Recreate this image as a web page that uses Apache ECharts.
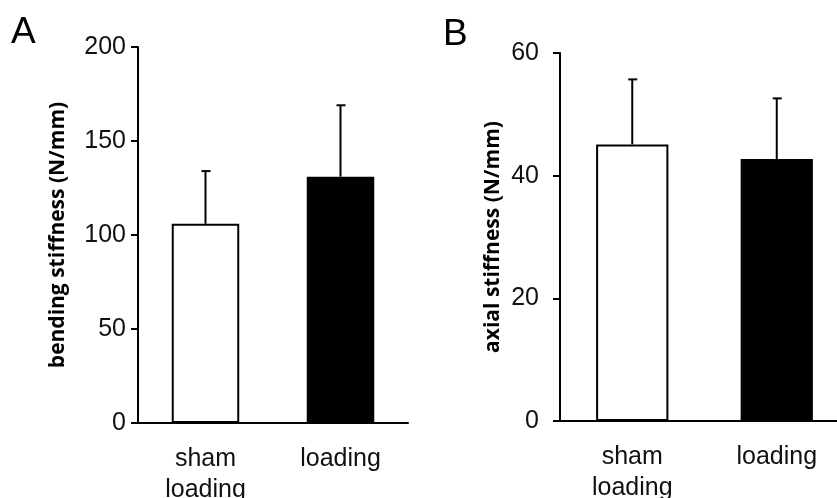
<!DOCTYPE html>
<html>
<head>
<meta charset="utf-8">
<script src="https://cdn.jsdelivr.net/npm/echarts@6/dist/echarts.min.js"></script>
<style>
  html, body { margin: 0; padding: 0; background: #fff; }
  #main { width: 837px; height: 498px; }
</style>
</head>
<body>
<div id="main"></div>
<script>
var categories = ['sham\nloading', 'loading'];
// panel A: bending stiffness (N/mm)
var bendingMean = [106, 131];
var bendingSD = [28, 38];
var bendingTicks = [0, 200, 50];   // min, max, interval
// panel B: axial stiffness (N/mm)
var axialMean = [45.1, 42.7];
var axialSD = [10.6, 9.9];
var axialTicks = [0, 60, 20];
var barColors = ['#ffffff', '#000000'];

var chart = echarts.init(document.getElementById('main'));

function barData(vals) {
    return vals.map(function (v, i) {
        return { value: v, itemStyle: { color: barColors[i] } };
    });
}

function errData(mean, sd) {
    return mean.map(function (m, i) { return [i, m, m + sd[i]]; });
}

// error bar: vertical line from mean up to mean+sd, small cap on top
function renderErr(params, api) {
    var lo = api.coord([api.value(0), api.value(1)]);
    var hi = api.coord([api.value(0), api.value(2)]);
    var st = { stroke: '#000', lineWidth: 2 };
    return {
        type: 'group',
        children: [
            { type: 'line', shape: { x1: lo[0], y1: lo[1], x2: hi[0], y2: hi[1] }, style: st },
            { type: 'line', shape: { x1: hi[0] - 4, y1: hi[1], x2: hi[0] + 5, y2: hi[1] }, style: st }
        ]
    };
}

var axisLine = { show: true, lineStyle: { color: '#000', width: 2 } };
var tickFont = { color: '#111', fontSize: 25, fontFamily: 'Liberation Sans, Arial, sans-serif' };

function yAxisOf(idx, t, name, gap, margin) {
    return {
        gridIndex: idx,
        type: 'value',
        min: t[0], max: t[1], interval: t[2],
        name: name,
        nameLocation: 'middle',
        nameGap: gap,
        nameRotate: 90,
        nameTextStyle: { color: '#000', fontSize: 21, fontWeight: 'bold', fontFamily: 'Open Sans, sans-serif' },
        axisLine: axisLine,
        axisTick: { show: true, length: 7, lineStyle: { color: '#000', width: 2 } },
        axisLabel: Object.assign({ margin: margin }, tickFont),
        splitLine: { show: false }
    };
}

function xAxisOf(idx) {
    return {
        gridIndex: idx,
        type: 'category',
        data: categories,
        axisLine: axisLine,
        axisTick: { show: false },
        axisLabel: Object.assign({ margin: 21, lineHeight: 31 }, tickFont)
    };
}

var option = {
    backgroundColor: '#fff',
    animation: false,
    graphic: [
        { type: 'text', left: 11, top: 14, style: { text: 'A', fontSize: 37, fill: '#000', fontFamily: 'Liberation Sans, Arial, sans-serif' } },
        { type: 'text', left: 443, top: 16, style: { text: 'B', fontSize: 37, fill: '#000', fontFamily: 'Liberation Sans, Arial, sans-serif' } }
    ],
    grid: [
        { left: 138, top: 47, width: 270, height: 376, outerBoundsMode: 'none', containLabel: false },
        { left: 560, top: 53, width: 289, height: 368, outerBoundsMode: 'none', containLabel: false }
    ],
    xAxis: [xAxisOf(0), xAxisOf(1)],
    yAxis: [
        yAxisOf(0, bendingTicks, 'bending stiffness (N/mm)', 69, 12),
        yAxisOf(1, axialTicks, 'axial stiffness (N/mm)', 56, 21)
    ],
    series: [
        {
            type: 'bar', xAxisIndex: 0, yAxisIndex: 0, barWidth: '50%',
            itemStyle: { borderColor: '#000', borderWidth: 2 },
            data: barData(bendingMean)
        },
        {
            type: 'custom', xAxisIndex: 0, yAxisIndex: 0, z: 3,
            renderItem: renderErr, data: errData(bendingMean, bendingSD)
        },
        {
            type: 'bar', xAxisIndex: 1, yAxisIndex: 1, barWidth: '50%',
            itemStyle: { borderColor: '#000', borderWidth: 2 },
            data: barData(axialMean)
        },
        {
            type: 'custom', xAxisIndex: 1, yAxisIndex: 1, z: 3,
            renderItem: renderErr, data: errData(axialMean, axialSD)
        }
    ]
};

chart.setOption(option);
</script>
</body>
</html>
